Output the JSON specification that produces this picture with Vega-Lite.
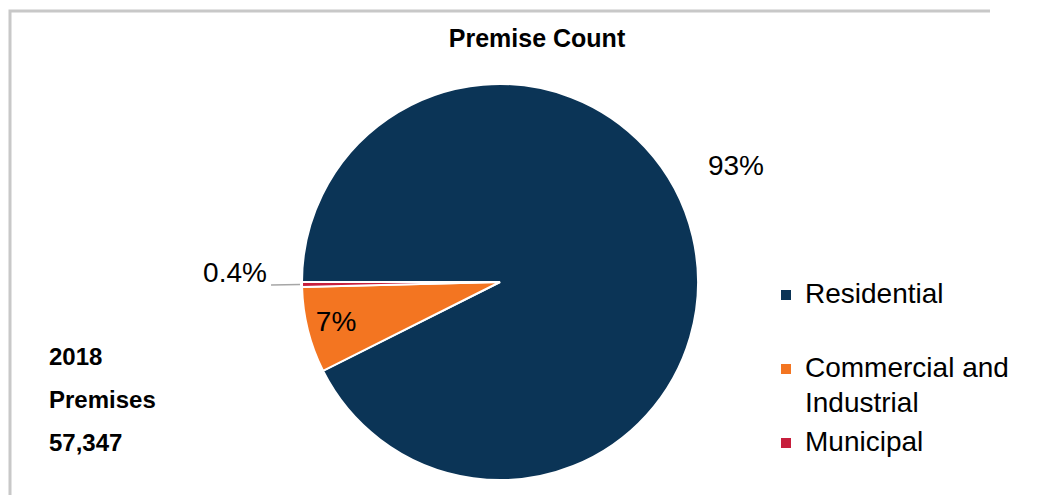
{
  "$schema": "https://vega.github.io/schema/vega-lite/v6.json",
  "autosize": {"type": "none"},
  "width": 980,
  "height": 542,
  "padding": {"left": 10, "top": 11, "right": 62, "bottom": 0},
  "background": "white",
  "title": {"text": "Premise Count", "font": "Liberation Sans", "fontSize": 25, "fontWeight": "bold", "color": "#000000", "offset": -42, "anchor": "middle", "dx": 37},
  "config": {
    "view": {"stroke": null},
    "style": {"guide-label": {"lineHeight": 35}}
  },
  "datasets": {
    "shares": [
      {"category": "Residential", "share": 92.6, "label": "93%", "year": 2018},
      {"category": "Commercial and Industrial", "share": 7.0, "label": "7%", "year": 2018},
      {"category": "Municipal", "share": 0.4, "label": "0.4%", "year": 2018}
    ],
    "frame": [{"name": "frame"}]
  },
  "data": {"name": "shares"},
  "layer": [
    {
      "data": {"name": "frame"},
      "mark": {"type": "rect", "filled": false, "fill": null, "stroke": "#c8c8c8", "strokeWidth": 3, "strokeDash": [980, 1522, 542]},
      "encoding": {}
    },
    {
      "mark": {"type": "arc", "outerRadius": 198, "stroke": "white", "strokeWidth": 2},
      "encoding": {
        "theta": {"field": "share", "type": "quantitative", "stack": true, "scale": {"range": [4.712389, 10.995574]}},
        "order": {"field": "share", "sort": "descending"},
        "color": {
          "field": "category", "type": "nominal",
          "scale": {"domain": ["Residential", "Commercial and Industrial", "Municipal"], "range": ["#0b3456", "#f37521", "#c71f3d"]},
          "legend": {
            "orient": "none", "legendX": 762, "legendY": 270, "title": null,
            "symbolType": "square", "symbolSize": 100, "symbolStrokeWidth": 0,
            "labelFont": "Liberation Sans", "labelFontSize": 28, "labelColor": "#000000",
            "labelLimit": 400, "labelOffset": 5, "rowPadding": 11,
            "labelExpr": "datum.label == 'Commercial and Industrial' ? ['Commercial and', 'Industrial'] : datum.label == 'Residential' ? ['Residential', ' '] : datum.label"
          }
        }
      }
    },
    {
      "mark": {"type": "arc", "innerRadius": 200, "outerRadius": 229, "padAngle": 0.0252, "fill": null, "filled": false, "stroke": "#a6a6a6", "strokeWidth": 1.5},
      "encoding": {
        "theta": {"field": "share", "type": "quantitative", "stack": true},
        "order": {"field": "share", "sort": "descending"},
        "strokeOpacity": {"condition": {"test": "datum.category === 'Municipal'", "value": 1}, "value": 0}
      }
    },
    {
      "mark": {"type": "text", "radius": 169, "font": "Liberation Sans", "fontSize": 28, "color": "#000000"},
      "encoding": {
        "theta": {"field": "share", "type": "quantitative", "stack": true},
        "order": {"field": "share", "sort": "descending"},
        "text": {"condition": {"test": "datum.category === 'Commercial and Industrial'", "field": "label", "type": "nominal"}, "value": ""},
        "opacity": {
          "field": "year", "type": "ordinal", "scale": {"range": [1, 1]},
          "legend": {
            "orient": "none", "legendX": 39, "legendY": 335,
            "title": ["2018", "Premises", "57,347"],
            "titleFont": "Liberation Sans", "titleFontSize": 24, "titleFontWeight": "bold", "titleColor": "#000000",
            "titleLineHeight": 43, "titlePadding": 0,
            "labelExpr": "''", "symbolSize": 0, "symbolOpacity": 0, "symbolStrokeWidth": 0
          }
        }
      }
    },
    {
      "mark": {"type": "text", "radius": 262, "dx": -19, "dy": -55, "font": "Liberation Sans", "fontSize": 28, "color": "#000000"},
      "encoding": {
        "theta": {"field": "share", "type": "quantitative", "stack": true},
        "order": {"field": "share", "sort": "descending"},
        "text": {"condition": {"test": "datum.category === 'Residential'", "field": "label", "type": "nominal"}, "value": ""}
      }
    },
    {
      "mark": {"type": "text", "radius": 265, "dy": -11, "font": "Liberation Sans", "fontSize": 28, "color": "#000000"},
      "encoding": {
        "theta": {"field": "share", "type": "quantitative", "stack": true},
        "order": {"field": "share", "sort": "descending"},
        "text": {"condition": {"test": "datum.category === 'Municipal'", "field": "label", "type": "nominal"}, "value": ""}
      }
    }
  ]
}
